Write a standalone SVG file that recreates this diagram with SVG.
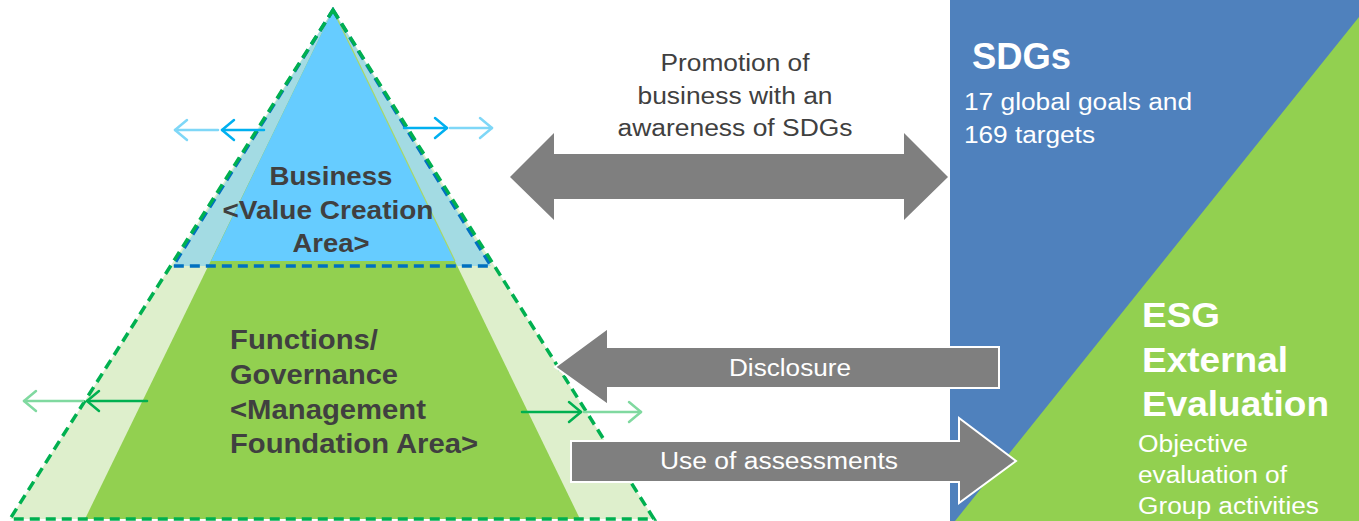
<svg xmlns="http://www.w3.org/2000/svg" width="1359" height="521" viewBox="0 0 1359 521">
<defs>
<style>
.lbl{font-family:"Liberation Sans",Arial,sans-serif;fill:#404040}
.b{font-weight:bold}
.w{font-family:"Liberation Sans",Arial,sans-serif;fill:#ffffff}
.gray{fill:#7F7F7F}
.sa{fill:none;stroke-width:2.5;stroke-linecap:round;stroke-linejoin:round}
</style>
</defs>
<rect width="1359" height="521" fill="#ffffff"/>
<g id="pyramid">
<polygon points="333,10 654,519 10,519" fill="#DEEFCC"/>
<polygon points="333,10 491,266 173,266" fill="#A3DBE3"/>
<polygon points="333,10 580,519 85,519" fill="#92D050"/>
<polygon points="333,10 455,261 211,261" fill="#66CCFF"/>
<line x1="333" y1="10" x2="455" y2="261" stroke="#A8D86A" stroke-width="1.2"/>
<polygon points="333,10 491,266 173,266" fill="none" stroke="#0070C0" stroke-width="3.5" stroke-dasharray="10,6"/>
<polygon points="333,10 654,519 10,519" fill="none" stroke="#00B050" stroke-width="3.5" stroke-dasharray="10,6"/>
</g>
<g id="business">
<text class="lbl b" font-size="26" text-anchor="middle" x="331" y="185" textLength="123" lengthAdjust="spacingAndGlyphs">Business</text>
<text class="lbl b" font-size="26" text-anchor="middle" x="328" y="219" textLength="211" lengthAdjust="spacingAndGlyphs">&lt;Value Creation</text>
<text class="lbl b" font-size="26" text-anchor="middle" x="331" y="252" textLength="77" lengthAdjust="spacingAndGlyphs">Area&gt;</text>
</g>
<g id="functions">
<text class="lbl b" font-size="27" x="230" y="349" textLength="148" lengthAdjust="spacingAndGlyphs">Functions/</text>
<text class="lbl b" font-size="27" x="230" y="384" textLength="168" lengthAdjust="spacingAndGlyphs">Governance</text>
<text class="lbl b" font-size="27" x="230" y="419" textLength="196" lengthAdjust="spacingAndGlyphs">&lt;Management</text>
<text class="lbl b" font-size="27" x="230" y="453" textLength="248" lengthAdjust="spacingAndGlyphs">Foundation Area&gt;</text>
</g>
<g id="right-panel">
<rect x="950" y="0" width="409" height="521" fill="#4F81BD"/>
<polygon points="1359,17 1359,521 955,521" fill="#92D050"/>
</g>
<g id="sdgs">
<text class="w b" font-size="36" x="972" y="69" textLength="99" lengthAdjust="spacingAndGlyphs">SDGs</text>
<text class="w" font-size="23" x="964" y="110" textLength="228" lengthAdjust="spacingAndGlyphs">17 global goals and</text>
<text class="w" font-size="23" x="964" y="143" textLength="131" lengthAdjust="spacingAndGlyphs">169 targets</text>
</g>
<g id="esg">
<text class="w b" font-size="35" x="1142" y="327" textLength="78" lengthAdjust="spacingAndGlyphs">ESG</text>
<text class="w b" font-size="35" x="1142" y="372" textLength="146" lengthAdjust="spacingAndGlyphs">External</text>
<text class="w b" font-size="35" x="1142" y="416" textLength="187" lengthAdjust="spacingAndGlyphs">Evaluation</text>
<text class="w" font-size="23" x="1138" y="452" textLength="110" lengthAdjust="spacingAndGlyphs">Objective</text>
<text class="w" font-size="23" x="1138" y="483" textLength="149" lengthAdjust="spacingAndGlyphs">evaluation of</text>
<text class="w" font-size="23" x="1138" y="514" textLength="181" lengthAdjust="spacingAndGlyphs">Group activities</text>
</g>
<g id="connectors">
<polygon class="gray" points="510,177 554,133 554,154 904,154 904,133 948,177 904,220 904,199 554,199 554,220"/>
<polygon class="gray" points="555,367 608,328 608,347 999,347 999,388 608,388 608,405" stroke="#ffffff" stroke-width="2"/>
<polygon class="gray" points="571,441 959,441 959,418 1016,461 959,503 959,482 571,482" stroke="#ffffff" stroke-width="2"/>
<g class="sa" stroke="#7FD7F7">
<line x1="218" y1="130" x2="175" y2="130"/><polyline points="187,120 175,130 187,140"/>
<line x1="450" y1="128" x2="492" y2="128"/><polyline points="480,118 492,128 480,138"/>
</g>
<g class="sa" stroke="#00B0F0">
<line x1="264" y1="130" x2="222" y2="130"/><polyline points="234,120 222,130 234,140"/>
<line x1="404" y1="128" x2="447" y2="128"/><polyline points="435,118 447,128 435,138"/>
</g>
<g class="sa" stroke="#80D9A0">
<line x1="83" y1="401" x2="24" y2="401"/><polyline points="36,391 24,401 36,411"/>
<line x1="584" y1="412" x2="641" y2="412"/><polyline points="629,402 641,412 629,422"/>
</g>
<g class="sa" stroke="#00B050">
<line x1="147" y1="401" x2="87" y2="401"/><polyline points="99,391 87,401 99,411"/>
<line x1="522" y1="412" x2="581" y2="412"/><polyline points="569,402 581,412 569,422"/>
</g>
</g>
<g id="labels">
<text class="lbl" font-size="23" text-anchor="middle" x="735" y="71" textLength="149" lengthAdjust="spacingAndGlyphs">Promotion of</text>
<text class="lbl" font-size="23" text-anchor="middle" x="735" y="104" textLength="195" lengthAdjust="spacingAndGlyphs">business with an</text>
<text class="lbl" font-size="23" text-anchor="middle" x="735" y="136" textLength="235" lengthAdjust="spacingAndGlyphs">awareness of SDGs</text>
<text class="w" font-size="23" text-anchor="middle" x="790" y="376" textLength="122" lengthAdjust="spacingAndGlyphs">Disclosure</text>
<text class="w" font-size="23" text-anchor="middle" x="779" y="469" textLength="238" lengthAdjust="spacingAndGlyphs">Use of assessments</text>
</g>
</svg>
